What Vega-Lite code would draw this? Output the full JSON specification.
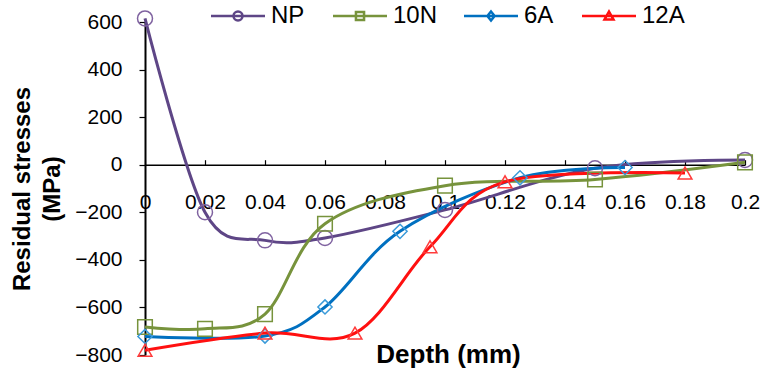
{
  "$schema": "https://vega.github.io/schema/vega-lite/v6.json",
  "width": 600,
  "height": 333,
  "autosize": {"type": "none"},
  "padding": {"left": 145, "top": 22, "right": 16, "bottom": 23},
  "config": {
    "view": {"stroke": null},
    "font": "Liberation Sans",
    "legend": {
      "orient": "none",
      "legendY": -18,
      "direction": "horizontal",
      "title": null,
      "padding": 0,
      "labelFontSize": 24,
      "labelColor": "black",
      "symbolSize": 324,
      "symbolStrokeWidth": 2.5,
      "labelOffset": 21
    }
  },
  "data": {
    "values": [
      {"series": "NP", "depth": 0, "stress": 615},
      {"series": "NP", "depth": 0.02, "stress": -200},
      {"series": "NP", "depth": 0.04, "stress": -318},
      {"series": "NP", "depth": 0.06, "stress": -308},
      {"series": "NP", "depth": 0.1, "stress": -190},
      {"series": "NP", "depth": 0.15, "stress": -15},
      {"series": "NP", "depth": 0.2, "stress": 20},
      {"series": "10N", "depth": 0, "stress": -682},
      {"series": "10N", "depth": 0.02, "stress": -690},
      {"series": "10N", "depth": 0.04, "stress": -628},
      {"series": "10N", "depth": 0.06, "stress": -248},
      {"series": "10N", "depth": 0.1, "stress": -88},
      {"series": "10N", "depth": 0.15, "stress": -62},
      {"series": "10N", "depth": 0.2, "stress": 10},
      {"series": "6A", "depth": 0, "stress": -722},
      {"series": "6A", "depth": 0.04, "stress": -720},
      {"series": "6A", "depth": 0.06, "stress": -598},
      {"series": "6A", "depth": 0.085, "stress": -280},
      {"series": "6A", "depth": 0.125, "stress": -55},
      {"series": "6A", "depth": 0.16, "stress": -12},
      {"series": "12A", "depth": 0, "stress": -780},
      {"series": "12A", "depth": 0.04, "stress": -708},
      {"series": "12A", "depth": 0.07, "stress": -708},
      {"series": "12A", "depth": 0.095, "stress": -345},
      {"series": "12A", "depth": 0.12, "stress": -72},
      {"series": "12A", "depth": 0.18, "stress": -35}
    ]
  },
  "encoding": {
    "x": {
      "field": "depth",
      "type": "quantitative",
      "scale": {"domain": [0, 0.2], "nice": false},
      "axis": {
        "orient": "bottom",
        "offset": -190.3,
        "values": [0, 0.02, 0.04, 0.06, 0.08, 0.1, 0.12, 0.14, 0.16, 0.18, 0.2],
        "format": "~g",
        "grid": false,
        "tickSize": -5,
        "tickColor": "black",
        "tickWidth": 1.2,
        "domainColor": "black",
        "domainWidth": 1.5,
        "labelPadding": 32,
        "labelFontSize": 21,
        "labelColor": "black",
        "labelFlush": false,
        "labelOverlap": false,
        "title": "Depth (mm)",
        "titleFontSize": 26,
        "titleFontWeight": "bold",
        "titleColor": "black",
        "titleX": 303,
        "titleY": 190,
        "titleAlign": "center",
        "titleBaseline": "middle"
      }
    },
    "y": {
      "field": "stress",
      "type": "quantitative",
      "scale": {"domain": [-800, 600], "nice": false},
      "axis": {
        "values": [-800, -600, -400, -200, 0, 200, 400, 600],
        "grid": false,
        "tickSize": 6,
        "tickColor": "black",
        "tickWidth": 1.2,
        "domainColor": "black",
        "domainWidth": 2,
        "labelPadding": 17,
        "labelFontSize": 21,
        "labelColor": "black",
        "labelOverlap": false,
        "title": ["Residual stresses", "(MPa)"],
        "titleFontSize": 24,
        "titleFontWeight": "bold",
        "titleColor": "black",
        "titleLineHeight": 30,
        "titlePadding": 10
      }
    }
  },
  "layer": [
    {
      "transform": [{"filter": "datum.series === 'NP'"}],
      "mark": {"type": "line", "interpolate": "cardinal", "strokeWidth": 3, "clip": false},
      "encoding": {
        "color": {
          "field": "series",
          "type": "nominal",
          "scale": {"domain": ["NP"], "range": ["#5e4686"]},
          "legend": {
            "legendX": 81,
            "symbolType": "M-3,0H3M0.5,0A0.5,0.5,0,1,1,-0.5,0A0.5,0.5,0,1,1,0.5,0"
          }
        }
      }
    },
    {
      "transform": [{"filter": "datum.series === '10N'"}],
      "mark": {"type": "line", "interpolate": "cardinal", "strokeWidth": 3, "clip": false},
      "encoding": {
        "color": {
          "field": "series",
          "type": "nominal",
          "scale": {"domain": ["10N"], "range": ["#77933c"]},
          "legend": {
            "legendX": 203,
            "symbolType": "M-3,0H3M-0.45,-0.45H0.45V0.45H-0.45Z"
          }
        }
      }
    },
    {
      "transform": [{"filter": "datum.series === '6A'"}],
      "mark": {"type": "line", "interpolate": "cardinal", "strokeWidth": 3, "clip": false},
      "encoding": {
        "color": {
          "field": "series",
          "type": "nominal",
          "scale": {"domain": ["6A"], "range": ["#0070c0"]},
          "legend": {
            "legendX": 334,
            "symbolType": "M-3,0H3M0,-0.5L0.4,0L0,0.5L-0.4,0Z"
          }
        }
      }
    },
    {
      "transform": [{"filter": "datum.series === '12A'"}],
      "mark": {"type": "line", "interpolate": "cardinal", "strokeWidth": 3, "clip": false},
      "encoding": {
        "color": {
          "field": "series",
          "type": "nominal",
          "scale": {"domain": ["12A"], "range": ["#ff1010"]},
          "legend": {
            "legendX": 452,
            "symbolType": "M-3,0H3M0,-0.5L0.5,0.4H-0.5Z"
          }
        }
      }
    },
    {
      "mark": {"type": "point", "filled": false, "strokeWidth": 1.5, "opacity": 1, "clip": false},
      "encoding": {
        "color": {
          "field": "series",
          "type": "nominal",
          "scale": {
            "domain": ["NP", "10N", "6A", "12A"],
            "range": ["#7f62a0", "#77933c", "#3a9ad9", "#ff3b3b"]
          },
          "legend": null
        },
        "shape": {
          "field": "series",
          "type": "nominal",
          "scale": {
            "domain": ["NP", "10N", "6A", "12A"],
            "range": ["circle", "square", "diamond", "triangle-up"]
          },
          "legend": null
        },
        "size": {
          "field": "series",
          "type": "nominal",
          "scale": {
            "domain": ["NP", "10N", "6A", "12A"],
            "range": [225, 190, 150, 170]
          },
          "legend": null
        }
      }
    }
  ],
  "resolve": {"scale": {"color": "independent"}}
}
